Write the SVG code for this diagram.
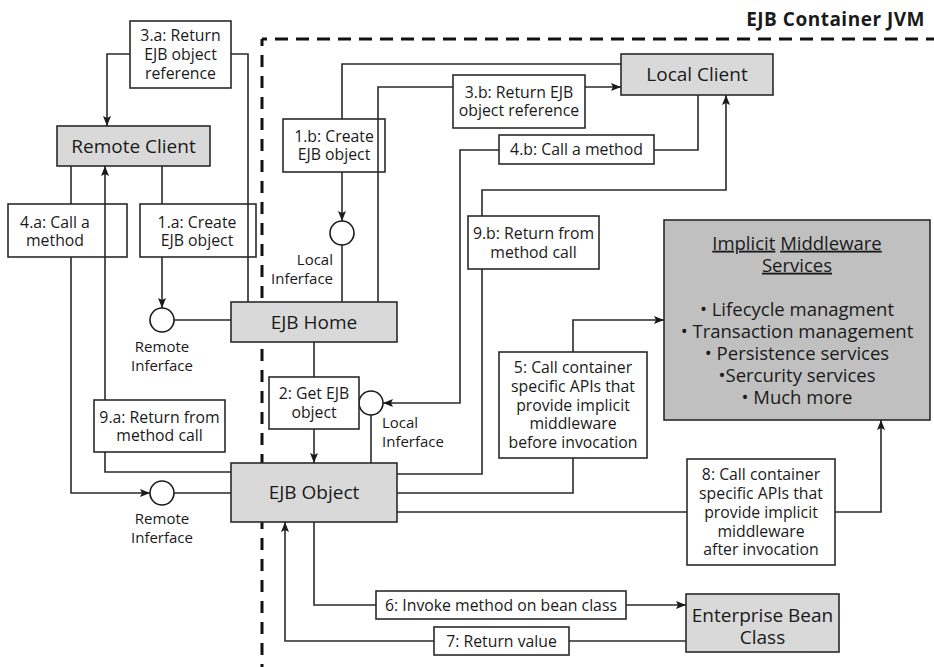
<svg xmlns="http://www.w3.org/2000/svg" width="934" height="667" viewBox="0 0 934 667">
<style>
  text { font-family: "Open Sans", "Noto Sans", "DejaVu Sans", sans-serif; fill: #1a1a1a; }
  .lbl { font-size: 15.8px; text-anchor: middle; }
  .node { font-size: 19px; text-anchor: middle; }
  .iface { font-size: 15px; }
  .svc { font-size: 18.5px; text-anchor: middle; }
  .box { fill: #ffffff; stroke: #2a2a2a; stroke-width: 1.6; }
  .gray { fill: #d9d9d9; stroke: #2a2a2a; stroke-width: 1.6; }
  .dark { fill: #c0c0c0; stroke: #2a2a2a; stroke-width: 1.6; }
  .circ { fill: #ffffff; stroke: #1a1a1a; stroke-width: 1.6; }
  .conn { fill: none; stroke: #2a2a2a; stroke-width: 1.6; }
  .arr { marker-end: url(#ah); }
  .dash { fill: none; stroke: #111; stroke-width: 3; }
  .u { text-decoration: underline; }
</style>
<defs>
  <marker id="ah" markerUnits="userSpaceOnUse" markerWidth="10" markerHeight="10" viewBox="0 0 10 10" refX="10" refY="5" orient="auto">
    <path d="M0,1 L10,5 L0,9 L2,5 Z" fill="#1a1a1a"/>
  </marker>
</defs>
<rect width="934" height="667" fill="#ffffff"/>

<g id="container">
  <line class="dash" x1="262" y1="39" x2="934" y2="39" stroke-dasharray="13 8" stroke-dashoffset="8"/>
  <line class="dash" x1="262" y1="39" x2="262" y2="667" stroke-dasharray="12 9" stroke-dashoffset="5"/>
  <text x="925" y="25.5" font-size="19" font-weight="bold" text-anchor="end" letter-spacing="0.5">EJB Container JVM</text>
</g>

<g id="remote-client">
  <rect class="gray" x="57" y="126" width="153" height="40"/>
  <text class="node" x="133.5" y="152.8">Remote Client</text>
</g>
<g id="local-client">
  <rect class="gray" x="621" y="54" width="152" height="41"/>
  <text class="node" x="697" y="80.8">Local Client</text>
</g>
<g id="ejb-home">
  <rect class="gray" x="231" y="302" width="166" height="40"/>
  <text class="node" x="314" y="328.8">EJB Home</text>
</g>
<g id="ejb-object">
  <rect class="gray" x="231" y="463" width="166" height="59"/>
  <text class="node" x="314" y="498.8">EJB Object</text>
</g>
<g id="enterprise-bean">
  <rect class="gray" x="686" y="594" width="153" height="58"/>
  <text class="node" x="762.5" y="621.8">Enterprise Bean</text>
  <text class="node" x="762.5" y="643.8">Class</text>
</g>
<g id="middleware">
  <rect class="dark" x="664" y="220" width="266" height="200"/>
  <text class="svc" x="797" y="249.7"><tspan class="u">Implicit</tspan> <tspan class="u">Middleware</tspan></text>
  <text class="svc" x="797" y="271.7"><tspan class="u">Services</tspan></text>
  <text class="svc" x="797" y="315.7">• Lifecycle managment</text>
  <text class="svc" x="797" y="337.7">• Transaction management</text>
  <text class="svc" x="797" y="359.7">• Persistence services</text>
  <text class="svc" x="797" y="381.7">•Sercurity services</text>
  <text class="svc" x="797" y="403.7">• Much more</text>
</g>

<g id="remote-iface-home">
  <circle class="circ" cx="162" cy="320" r="12"/>
  <text class="iface" x="162" y="352.4" text-anchor="middle">Remote</text>
  <text class="iface" x="162" y="371.4" text-anchor="middle">Inferface</text>
</g>
<g id="remote-iface-object">
  <circle class="circ" cx="162" cy="493" r="12"/>
  <text class="iface" x="162" y="524.4" text-anchor="middle">Remote</text>
  <text class="iface" x="162" y="543.4" text-anchor="middle">Inferface</text>
</g>
<g id="local-iface-home">
  <circle class="circ" cx="342" cy="233" r="12"/>
  <text class="iface" x="333" y="265.4" text-anchor="end">Local</text>
  <text class="iface" x="333" y="284.4" text-anchor="end">Inferface</text>
</g>
<g id="local-iface-object">
  <circle class="circ" cx="371" cy="403" r="12"/>
  <text class="iface" x="382" y="428.4">Local</text>
  <text class="iface" x="382" y="447.4">Inferface</text>
</g>

<g id="label-3a">
  <rect class="box" x="130" y="21" width="101" height="67"/>
  <text class="lbl" x="180.5" y="40.8">3.a: Return</text>
  <text class="lbl" x="180.5" y="59.8">EJB object</text>
  <text class="lbl" x="180.5" y="78.8">reference</text>
</g>
<g id="label-4a">
  <rect class="box" x="8" y="204" width="119" height="53"/>
  <text class="lbl" x="55" y="227.8">4.a: Call a</text>
  <text class="lbl" x="55" y="245.8">method</text>
</g>
<g id="label-1a">
  <rect class="box" x="140" y="204" width="116" height="53"/>
  <text class="lbl" x="197" y="227.8">1.a: Create</text>
  <text class="lbl" x="197" y="245.8">EJB object</text>
</g>
<g id="label-9a">
  <rect class="box" x="94" y="400" width="131" height="52"/>
  <text class="lbl" x="159.5" y="422.8">9.a: Return from</text>
  <text class="lbl" x="159.5" y="440.8">method call</text>
</g>
<g id="label-2">
  <rect class="box" x="269" y="377" width="90" height="52"/>
  <text class="lbl" x="314" y="398.8">2: Get EJB</text>
  <text class="lbl" x="314" y="417.8">object</text>
</g>
<g id="label-1b">
  <rect class="box" x="283" y="119" width="102" height="53"/>
  <text class="lbl" x="334" y="141.8">1.b: Create</text>
  <text class="lbl" x="334" y="159.8">EJB object</text>
</g>
<g id="label-3b">
  <rect class="box" x="453" y="75" width="132" height="53"/>
  <text class="lbl" x="519" y="97.8">3.b: Return EJB</text>
  <text class="lbl" x="519" y="115.8">object reference</text>
</g>
<g id="label-4b">
  <rect class="box" x="499" y="135" width="155" height="29"/>
  <text class="lbl" x="576.5" y="154.8">4.b: Call a method</text>
</g>
<g id="label-9b">
  <rect class="box" x="468" y="216" width="131" height="53"/>
  <text class="lbl" x="533.5" y="238.8">9.b: Return from</text>
  <text class="lbl" x="533.5" y="257.8">method call</text>
</g>
<g id="label-5">
  <rect class="box" x="499" y="352" width="148" height="106"/>
  <text class="lbl" x="573" y="372.8">5: Call container</text>
  <text class="lbl" x="573" y="391.8">specific APIs that</text>
  <text class="lbl" x="573" y="410.8">provide implicit</text>
  <text class="lbl" x="573" y="428.8">middleware</text>
  <text class="lbl" x="573" y="447.8">before invocation</text>
</g>
<g id="label-8">
  <rect class="box" x="687" y="459" width="148" height="106"/>
  <text class="lbl" x="761" y="479.8">8: Call container</text>
  <text class="lbl" x="761" y="498.8">specific APIs that</text>
  <text class="lbl" x="761" y="517.8">provide implicit</text>
  <text class="lbl" x="761" y="536.8">middleware</text>
  <text class="lbl" x="761" y="554.8">after invocation</text>
</g>
<g id="label-6">
  <rect class="box" x="376" y="591" width="250" height="28"/>
  <text class="lbl" x="501" y="610.8">6: Invoke method on bean class</text>
</g>
<g id="label-7">
  <rect class="box" x="434" y="627" width="135" height="28"/>
  <text class="lbl" x="501.5" y="646.8">7: Return value</text>
</g>

<g id="connectors">
  <!-- 3.a -->
  <path class="conn" d="M248,302 V54 H231"/>
  <path class="conn arr" d="M130,54 H107 V126"/>
  <!-- 1.a -->
  <path class="conn" d="M162,166 V204"/>
  <path class="conn arr" d="M162,257 V308"/>
  <path class="conn" d="M174,320 H231"/>
  <!-- 4.a -->
  <path class="conn" d="M71,166 V204"/>
  <path class="conn arr" d="M71,257 V493 H150"/>
  <path class="conn" d="M174,493 H231"/>
  <!-- 9.a -->
  <path class="conn" d="M231,472 H105 V452"/>
  <path class="conn arr" d="M105,400 V166"/>
  <!-- 1.b -->
  <path class="conn" d="M621,64 H342 V119"/>
  <path class="conn arr" d="M342,172 V221"/>
  <path class="conn" d="M342,245 V302"/>
  <!-- 3.b -->
  <path class="conn" d="M378,302 V87 H453"/>
  <path class="conn arr" d="M585,87 H621"/>
  <!-- 2 -->
  <path class="conn" d="M314,342 V377"/>
  <path class="conn arr" d="M314,429 V463"/>
  <!-- 4.b -->
  <path class="conn" d="M698,95 V150 H654"/>
  <path class="conn arr" d="M499,150 H460 V403 H383"/>
  <path class="conn" d="M371,415 V463"/>
  <!-- 9.b -->
  <path class="conn" d="M397,474 H482 V269"/>
  <path class="conn arr" d="M482,216 V190 H726 V95"/>
  <!-- 5 -->
  <path class="conn" d="M397,493 H573 V458"/>
  <path class="conn arr" d="M573,352 V320 H664"/>
  <!-- 8 -->
  <path class="conn" d="M397,512 H687"/>
  <path class="conn arr" d="M835,512 H881 V420"/>
  <!-- 6 -->
  <path class="conn" d="M314,522 V605 H376"/>
  <path class="conn arr" d="M626,605 H686"/>
  <!-- 7 -->
  <path class="conn" d="M686,641 H569"/>
  <path class="conn arr" d="M434,641 H285 V522"/>
</g>
</svg>
